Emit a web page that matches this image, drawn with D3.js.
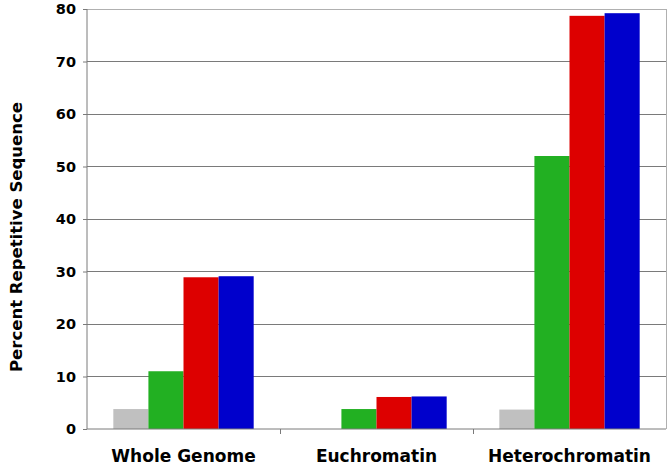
<!DOCTYPE html>
<html><head><meta charset="utf-8">
<script src="https://cdn.jsdelivr.net/npm/d3@7"></script>
<style>body{margin:0;background:#fff}svg{display:block}</style>
</head><body>
<svg id="c" width="672" height="466"></svg>
<script>
const categories = ["Whole Genome", "Euchromatin", "Heterochromatin"];
const seriesNames = ["s1", "s2", "s3", "s4"];
const seriesColors = ["#c0c0c0", "#22b022", "#dd0000", "#0000cc"];
const values = [
  [3.8, 11.0, 28.9, 29.1],
  [0, 3.8, 6.1, 6.2],
  [3.7, 52.0, 78.7, 79.2]
];
const yTicks = [0, 10, 20, 30, 40, 50, 60, 70, 80];

const svg = d3.select("#c");
const m = {l: 87, r: 6, t: 9, b: 37};
const W = 672, H = 466;
const x = d3.scaleBand().domain(categories).range([m.l, W - m.r]).paddingInner(0).paddingOuter(0);
const xs = d3.scaleBand().domain(seriesNames).range([0, x.bandwidth()]).paddingInner(0).paddingOuter(0.75);
const y = d3.scaleLinear().domain([0, 80]).range([H - m.b, m.t]);

// grid
svg.append("g").selectAll("line").data(yTicks.filter(d => d > 0)).join("line")
  .attr("x1", m.l).attr("x2", W - m.r).attr("y1", d => y(d)).attr("y2", d => y(d))
  .attr("stroke", d => d === 80 ? "#b0b0b0" : "#7a7a7a").attr("stroke-width", 1)
  .attr("shape-rendering", "crispEdges");
// right border
svg.append("line").attr("x1", W - m.r).attr("x2", W - m.r).attr("y1", m.t).attr("y2", y(0))
  .attr("stroke", "#b0b0b0").attr("shape-rendering", "crispEdges");

// bars
const g = svg.append("g").selectAll("g").data(categories).join("g")
  .attr("transform", d => `translate(${x(d)},0)`);
g.selectAll("rect").data((d, i) => values[i].map((v, j) => ({v, j}))).join("rect")
  .attr("x", d => xs(seriesNames[d.j])).attr("width", xs.bandwidth())
  .attr("y", d => y(d.v)).attr("height", d => y(0) - y(d.v))
  .attr("fill", d => seriesColors[d.j]);

// y axis
const ya = svg.append("g").attr("transform", `translate(${m.l},0)`)
  .call(d3.axisLeft(y).tickValues(yTicks).tickSize(4).tickPadding(7));
ya.select(".domain").attr("stroke", "#7a7a7a").attr("d", `M-0,${y(80)}V${y(0)}`);
ya.selectAll(".tick line").attr("stroke", "#7a7a7a");
ya.selectAll("text").attr("font-family", "DejaVu Sans").attr("font-weight", "bold")
  .attr("font-size", 14.5).attr("fill", "#000");

// x axis
const xa = svg.append("g").attr("transform", `translate(0,${y(0)})`)
  .call(d3.axisBottom(x).tickSize(0).tickPadding(21));
xa.select(".domain").attr("stroke", "#7a7a7a").attr("d", `M${m.l},0H${W - m.r}`);
xa.selectAll("text").attr("font-family", "DejaVu Sans").attr("font-weight", "bold")
  .attr("font-size", 17).attr("fill", "#000");
// category boundary ticks
svg.append("g").selectAll("line").data(categories.slice(1)).join("line")
  .attr("x1", d => x(d)).attr("x2", d => x(d)).attr("y1", y(0)).attr("y2", y(0) + 5)
  .attr("stroke", "#7a7a7a").attr("shape-rendering", "crispEdges");

// y label
svg.append("text").attr("transform", `translate(22,${(m.t + y(0)) / 2 + 18}) rotate(-90)`)
  .attr("text-anchor", "middle").attr("font-family", "DejaVu Sans").attr("font-weight", "bold")
  .attr("font-size", 16.5).text("Percent Repetitive Sequence");
</script>
</body></html>
